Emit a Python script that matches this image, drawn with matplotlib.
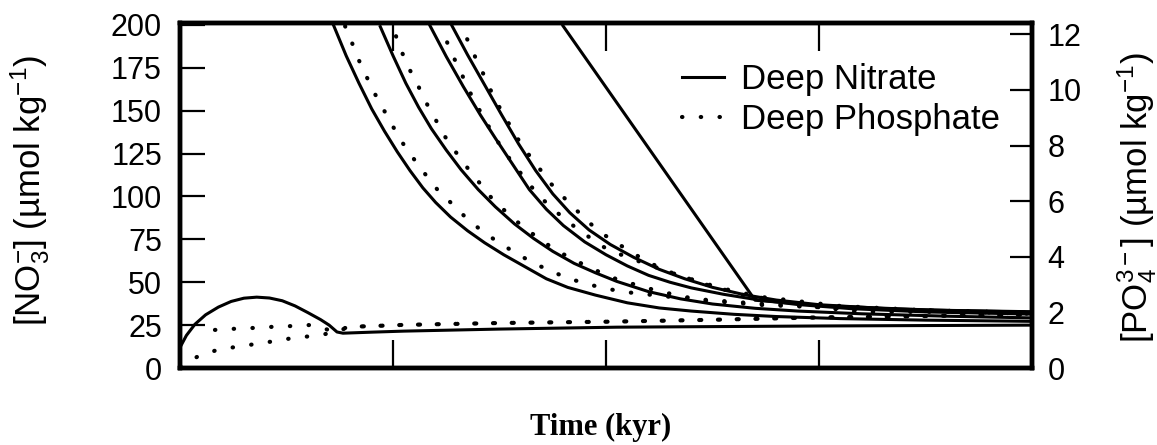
import numpy as np
import matplotlib
matplotlib.use("Agg")
import matplotlib.pyplot as plt
from matplotlib.lines import Line2D

plt.rcParams['font.family'] = ['Liberation Sans', 'DejaVu Sans']
plt.rcParams['mathtext.fontset'] = 'custom'
plt.rcParams['mathtext.rm'] = 'Liberation Sans'
plt.rcParams['mathtext.it'] = 'Liberation Sans:italic'

# --- deep nitrate (umol/kg), time in arbitrary kyr units (ticks unlabelled)
n0_t = [0, 0.03, 0.07, 0.12, 0.18, 0.24, 0.30, 0.36, 0.42, 0.48, 0.54, 0.60, 0.66, 0.70, 0.737, 0.765, 0.9, 1.05, 1.5, 2.05, 3.0, 4.0]
n0_v = [12.0, 19.0, 25.5, 31.0, 35.5, 38.8, 40.7, 41.3, 40.8, 39.2, 36.2, 32.3, 28.2, 25.0, 21.0, 20.3, 20.9, 21.5, 22.7, 23.8, 24.5, 25.0]

n1_t = [0.72, 0.78, 0.84, 0.90, 0.96, 1.02, 1.08, 1.14, 1.20, 1.27, 1.35, 1.43, 1.52, 1.62, 1.72, 1.82, 1.95, 2.1, 2.25, 2.4, 2.6, 2.8, 3.1, 3.5, 4.0]
n1_v = [200, 182, 166, 151, 138, 126, 115, 105, 96.5, 88, 80, 73, 66, 59, 52, 47, 42.5, 38, 35, 33.2, 31.3, 30.0, 28.8, 27.9, 27.2]

n2_t = [0.94, 1.0, 1.06, 1.12, 1.18, 1.25, 1.32, 1.40, 1.48, 1.57, 1.66, 1.75, 1.85, 1.95, 2.05, 2.2, 2.35, 2.5, 2.7, 2.9, 3.2, 3.6, 4.0]
n2_v = [199, 182, 166, 152, 139.5, 127, 115.5, 104, 94, 84, 75.5, 68, 61, 55.5, 50.5, 44.5, 40.3, 37.3, 34.8, 33.2, 31.6, 30.2, 29.2]

n3_t = [1.174, 1.25, 1.33, 1.41, 1.48, 1.56, 1.64, 1.72, 1.80, 1.90, 2.0, 2.1, 2.2, 2.3, 2.4, 2.55, 2.7, 2.9, 3.15, 3.5, 4.0]
n3_v = [199.4, 181.5, 164, 147.5, 134, 119, 104, 92.5, 83, 73.5, 66, 59.5, 54, 50, 46.7, 43, 40, 37, 34.6, 32.7, 31.4]

n4_t = [1.277, 1.35, 1.43, 1.51, 1.59, 1.67, 1.75, 1.83, 1.92, 2.02, 2.13, 2.25, 2.37, 2.5, 2.65, 2.8, 3.0, 3.3, 3.65, 4.0]
n4_v = [199.4, 182.5, 165, 147.5, 130.5, 115, 101.5, 90.5, 80.5, 72, 64.5, 57.5, 52, 47, 42.7, 39.6, 36.9, 34.7, 33.4, 32.6]

n5_t = [1.798, 2.70, 3.0, 3.5, 4.0]
n5_v = [199.4, 39.5, 36.5, 33.8, 32.8]

# --- deep phosphate (umol/kg)
p0_t = [0, 0.08, 0.174, 0.263, 0.352, 0.446, 0.531, 0.620, 0.714, 0.798, 1.047, 1.516, 2.052, 2.535, 3.005, 4.0]
p0_v = [0.07, 0.40, 0.65, 0.76, 0.86, 0.97, 1.08, 1.15, 1.26, 1.48, 1.55, 1.62, 1.67, 1.74, 1.82, 1.92]

p5_t = [0.164, 0.254, 0.343, 0.432, 0.526, 0.620, 0.714, 0.798, 1.047, 1.516, 2.052, 2.535, 3.005, 4.0]
p5_v = [1.37, 1.41, 1.44, 1.48, 1.51, 1.55, 1.33, 1.48, 1.55, 1.62, 1.67, 1.74, 1.82, 1.92]

p1_t = [0.775, 0.808, 0.840, 0.873, 0.906, 0.953, 1.0, 1.047, 1.103, 1.160, 1.216, 1.286, 1.352, 1.423, 1.498, 1.582, 1.657, 1.737, 1.817, 1.906, 1.986, 2.080, 2.347, 2.723, 3.192, 4.0]
p1_v = [12.29, 11.68, 11.06, 10.52, 9.98, 9.33, 8.68, 8.07, 7.46, 6.88, 6.34, 5.84, 5.33, 4.90, 4.50, 4.11, 3.78, 3.50, 3.24, 3.03, 2.88, 2.74, 2.52, 2.31, 2.13, 1.98]

p2_t = [1.014, 1.042, 1.075, 1.113, 1.150, 1.197, 1.244, 1.296, 1.352, 1.413, 1.469, 1.540, 1.610, 1.681, 1.761, 1.840, 1.915, 2.0, 2.080, 2.169, 2.249, 2.338, 2.427, 2.723, 3.192, 4.0]
p2_v = [11.93, 11.35, 10.77, 10.23, 9.62, 8.97, 8.32, 7.75, 7.17, 6.59, 6.05, 5.55, 5.08, 4.68, 4.25, 3.93, 3.64, 3.35, 3.10, 2.95, 2.74, 2.63, 2.45, 2.27, 2.13, 1.98]

p3_t = [1.254, 1.282, 1.319, 1.352, 1.394, 1.441, 1.488, 1.540, 1.601, 1.657, 1.723, 1.793, 1.864, 1.939, 2.009, 2.16, 2.347, 2.535, 2.723, 3.099, 3.568, 4.0]
p3_v = [11.71, 11.21, 10.63, 10.05, 9.44, 8.79, 8.18, 7.60, 6.99, 6.45, 5.91, 5.44, 5.01, 4.61, 4.25, 3.82, 3.32, 2.88, 2.56, 2.23, 2.05, 1.95]

p4_t = [1.31, 1.333, 1.366, 1.399, 1.437, 1.469, 1.516, 1.563, 1.610, 1.671, 1.728, 1.789, 1.854, 1.920, 1.991, 2.070, 2.146, 2.225, 2.310, 2.390, 2.474, 2.559, 2.643, 2.732, 2.812, 2.897, 2.981, 3.066, 3.155, 3.230, 3.615, 4.0]
p4_v = [12.43, 12.07, 11.53, 10.95, 10.38, 9.80, 9.15, 8.54, 7.93, 7.35, 6.74, 6.23, 5.73, 5.23, 4.79, 4.40, 4.04, 3.71, 3.42, 3.21, 2.99, 2.81, 2.63, 2.52, 2.41, 2.34, 2.20, 2.13, 2.05, 2.02, 2.02, 1.98]

nitrate = [(n0_t, n0_v), (n1_t, n1_v), (n2_t, n2_v), (n3_t, n3_v), (n4_t, n4_v), (n5_t, n5_v)]
phosphate = [(p0_t, p0_v), (p5_t, p5_v), (p1_t, p1_v), (p2_t, p2_v), (p3_t, p3_v), (p4_t, p4_v)]

fig = plt.figure(figsize=(11.57, 4.45), dpi=100)
ax = fig.add_axes([0.1556, 0.173, 0.7364, 0.775])
ax2 = ax.twinx()

dots = (0, (0.1, 4.4))
for t, v in nitrate:
    ax.plot(t, v, color='black', lw=2.2, solid_joinstyle='round')
for t, v in phosphate:
    ax2.plot(t, v, color='black', lw=3.0, linestyle=dots, dash_capstyle='round')

ax.set_xlim(0, 4)
ax.set_ylim(0, 201)
ax2.set_ylim(0, 12.4)

ax.set_xticks([1, 2, 3])
ax.set_xticklabels([])
ax.set_yticks(np.arange(0, 201, 25))
ax2.set_yticks(np.arange(0, 13, 2))

ax.tick_params(axis='x', direction='in', length=20, width=1.6, top=True, bottom=True)
ax.tick_params(axis='y', direction='in', length=18, width=1.6, labelsize=22, pad=13)
ax2.tick_params(axis='y', direction='in', length=16, width=1.6, labelsize=22, pad=11)

for a in (ax, ax2):
    for s in a.spines.values():
        s.set_linewidth(3.2)

fig.text(0.026, 0.573, '[NO$_3^{-}$] (µmol kg$^{-1}$)', rotation=90,
         ha='center', va='center', fontsize=25)
fig.text(0.983, 0.555, '[PO$_4^{3-}$] (µmol kg$^{-1}$)', rotation=90,
         ha='center', va='center', fontsize=25)
fig.text(0.519, 0.04, 'Time (kyr)', ha='center', va='center', fontsize=22,
         fontweight='bold', family='Liberation Serif')

h1 = Line2D([], [], color='black', lw=2.2)
h2 = Line2D([], [], color='black', lw=3.0, linestyle=dots, dash_capstyle='round')
ax.legend([h1, h2], ['Deep Nitrate', 'Deep Phosphate'], loc='upper left',
          bbox_to_anchor=(0.589, 0.885), frameon=False, fontsize=25,
          handlelength=1.2, handletextpad=0.5, labelspacing=0.22,
          borderpad=0, borderaxespad=0)

fig.savefig('out.png', dpi=100)
